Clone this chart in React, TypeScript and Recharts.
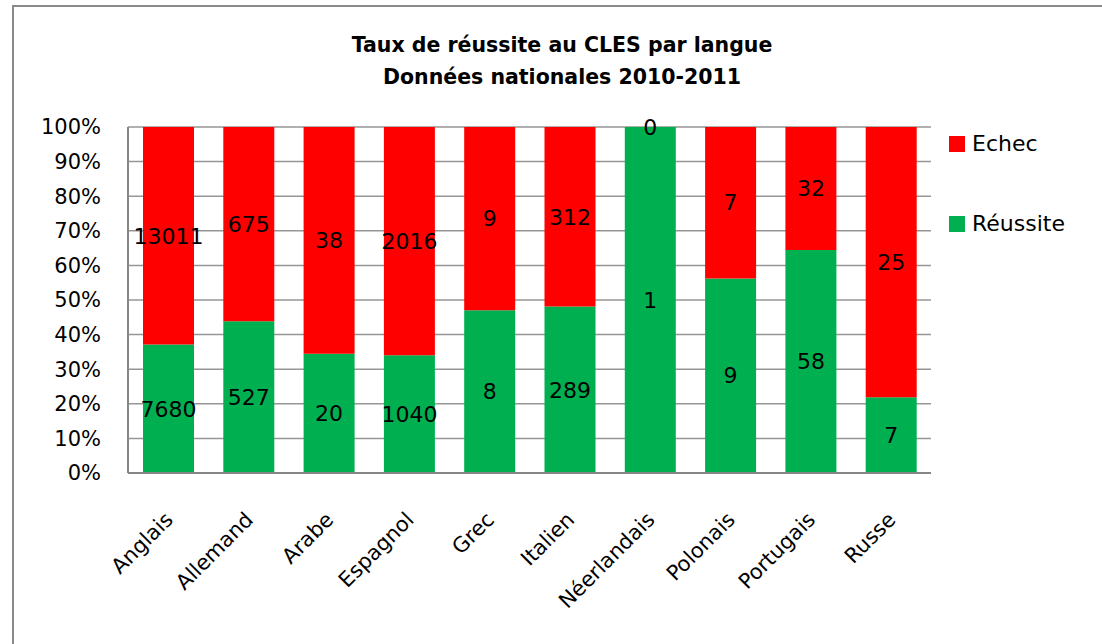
import { BarChart, Bar, XAxis, YAxis, CartesianGrid, LabelList } from "recharts";

const languages = [
  "Anglais",
  "Allemand",
  "Arabe",
  "Espagnol",
  "Grec",
  "Italien",
  "Néerlandais",
  "Polonais",
  "Portugais",
  "Russe",
];
const reussite = [7680, 527, 20, 1040, 8, 289, 1, 9, 58, 7];
const echec = [13011, 675, 38, 2016, 9, 312, 0, 7, 32, 25];
const yTicks = [0, 0.1, 0.2, 0.3, 0.4, 0.5, 0.6, 0.7, 0.8, 0.9, 1];

const GREEN = "#00B050";
const RED = "#FF0000";
const FONT = "'Comic Sans MS', 'DejaVu Sans', sans-serif";

const data = languages.map((name, i) => ({
  name,
  reussite: reussite[i],
  echec: echec[i],
}));

const legendItems = [
  { label: "Echec", color: RED, top: 136 },
  { label: "Réussite", color: GREEN, top: 216 },
];

function LangTick(props: any) {
  const { x, y, payload } = props;
  const ax = x + 6;
  const ay = y + 46;
  return (
    <text
      x={ax}
      y={ay}
      textAnchor="end"
      fill="#000"
      fontSize={21}
      fontFamily={FONT}
      transform={`rotate(-45, ${ax}, ${ay})`}
    >
      {payload.value}
    </text>
  );
}

// echec segments of height 0 are not drawn, so their "0" goes on top of the green bar
function ZeroEchecLabel(props: any) {
  const { x, y, width, value } = props;
  if (value !== 0) return null;
  return (
    <text
      x={x + width / 2}
      y={y}
      textAnchor="middle"
      dominantBaseline="central"
      fill="#000"
      fontSize={22}
      fontFamily={FONT}
    >
      {value}
    </text>
  );
}

export default function App() {
  return (
    <div
      style={{
        position: "absolute",
        left: 0,
        top: 0,
        width: 1102,
        height: 644,
        overflow: "hidden",
        background: "#fff",
        fontFamily: FONT,
      }}
    >
      <div
        style={{
          position: "absolute",
          left: 12,
          top: 5,
          width: 1200,
          height: 700,
          border: "2px solid #8a8a8a",
        }}
      />
      <div
        style={{
          position: "absolute",
          left: 0,
          width: 1124,
          top: 29,
          textAlign: "center",
          fontWeight: "bold",
          fontSize: 20.5,
          lineHeight: "32px",
          color: "#000",
        }}
      >
        <div>Taux de réussite au CLES par langue</div>
        <div>Données nationales 2010-2011</div>
      </div>

      {legendItems.map((item) => (
        <div
          key={item.label}
          style={{
            position: "absolute",
            left: 949,
            top: item.top,
            display: "flex",
            alignItems: "center",
            fontSize: 22,
            color: "#000",
            lineHeight: "16px",
          }}
        >
          <span
            style={{
              display: "inline-block",
              width: 16,
              height: 16,
              background: item.color,
              marginRight: 7,
            }}
          />
          <span>{item.label}</span>
        </div>
      ))}

      <div style={{ position: "absolute", left: 0, top: 0 }}>
        <BarChart
          width={1102}
          height={644}
          data={data}
          stackOffset="expand"
          margin={{ top: 127, right: 171, left: 0, bottom: 71 }}
        >
          <CartesianGrid vertical={false} stroke="#969696" strokeWidth={1.5} />
          <XAxis
            dataKey="name"
            height={100}
            interval={0}
            tickLine={false}
            tickSize={0}
            tick={<LangTick />}
            axisLine={{ stroke: "#868686", strokeWidth: 2 }}
          />
          <YAxis
            width={128}
            domain={[0, 1]}
            ticks={yTicks}
            interval={0}
            tickLine={false}
            tickSize={0}
            tickMargin={27}
            axisLine={{ stroke: "#868686", strokeWidth: 2 }}
            tickFormatter={(v: number) => `${Math.round(v * 100)}%`}
            tick={{ fill: "#000", fontSize: 21, fontFamily: FONT }}
          />
          <Bar
            dataKey="reussite"
            name="Réussite"
            stackId="a"
            fill={GREEN}
            barSize={51}
            isAnimationActive={false}
          >
            <LabelList
              dataKey="reussite"
              position="center"
              fill="#000"
              fontSize={22}
              fontFamily={FONT}
            />
            <LabelList dataKey="echec" content={<ZeroEchecLabel />} />
          </Bar>
          <Bar
            dataKey="echec"
            name="Echec"
            stackId="a"
            fill={RED}
            barSize={51}
            isAnimationActive={false}
          >
            <LabelList
              dataKey="echec"
              position="center"
              fill="#000"
              fontSize={22}
              fontFamily={FONT}
            />
          </Bar>
        </BarChart>
      </div>
    </div>
  );
}
